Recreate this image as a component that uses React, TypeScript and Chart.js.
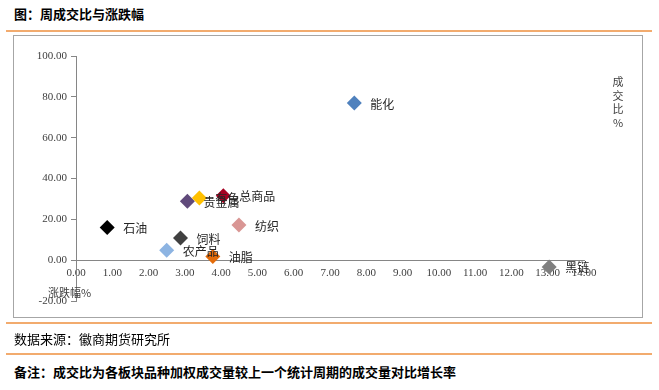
import React, { useEffect, useRef } from "react";
import { Chart, registerables } from "chart.js";

Chart.register(...registerables);

const names = ["能化", "石油", "农产品", "饲料", "贵金属", "有色", "油脂", "总商品", "纺织", "黑链"];
const changePct = [7.67, 0.86, 2.5, 2.88, 3.07, 3.4, 3.77, 4.06, 4.49, 13.04];
const volumeRatio = [77.0, 16.0, 4.9, 10.8, 28.8, 30.5, 1.8, 31.6, 17.2, -3.3];
const palette = ["#4F81BD", "#000000", "#8DB4E2", "#404040", "#604A7B", "#FFC000", "#E46C0A", "#A50021", "#D99694", "#7F7F7F"];

const xMin = 0, xMax = 14, xStep = 1;
const yMin = -20, yMax = 100, yStep = 20;

const title = "图：周成交比与涨跌幅";
const source = "数据来源：徽商期货研究所";
const note = "备注：成交比为各板块品种加权成交量较上一个统计周期的成交量对比增长率";
const yTitle = ["成", "交", "比", "%"];
const xTitle = "涨跌幅%";

const CJK = '"Noto Sans CJK SC", "Noto Sans", sans-serif';
const SERIF = '"Liberation Serif", "DejaVu Serif", serif';

const labelPlugin = {
  id: "pointLabels",
  afterDatasetsDraw(chart: any) {
    const ctx = chart.ctx;
    const meta = chart.getDatasetMeta(0);
    ctx.save();
    ctx.font = `12px ${CJK}`;
    ctx.fillStyle = "#262626";
    ctx.textBaseline = "middle";
    ctx.textAlign = "left";
    meta.data.forEach((pt: any, i: number) => {
      ctx.fillText(names[i], pt.x + 16, pt.y + 1);
    });
    ctx.restore();
  },
};

export default function App() {
  const ref = useRef<HTMLCanvasElement>(null);
  useEffect(() => {
    if (!ref.current) return;
    const chart = new Chart(ref.current, {
      type: "scatter",
      data: {
        datasets: [
          {
            data: changePct.map((x, i) => ({ x, y: volumeRatio[i] })),
            pointStyle: "rectRot",
            pointRadius: 7.5,
            pointHoverRadius: 7.5,
            pointBackgroundColor: palette,
            pointBorderWidth: 0,
            borderWidth: 0,
          },
        ],
      },
      options: {
        animation: false,
        responsive: false,
        devicePixelRatio: 1,
        layout: { padding: { left: 0, right: 57, top: 20, bottom: 16 } },
        plugins: { legend: { display: false }, tooltip: { enabled: false } },
        scales: {
          x: {
            type: "linear",
            min: xMin,
            max: xMax,
            position: { y: 0 },
            ticks: {
              stepSize: xStep,
              callback: (v: any) => Number(v).toFixed(2),
              font: { family: SERIF, size: 11 },
              color: "#404040",
              padding: 6,
              maxRotation: 0,
              autoSkip: false,
            },
            grid: { drawOnChartArea: false, drawTicks: false },
            border: { color: "#868686", width: 1 },
          },
          y: {
            type: "linear",
            min: yMin,
            max: yMax,
            position: "left",
            afterFit: (s: any) => {
              s.width = 62;
            },
            ticks: {
              stepSize: yStep,
              callback: (v: any) => Number(v).toFixed(2),
              font: { family: SERIF, size: 11 },
              color: "#404040",
              padding: 4,
            },
            grid: { drawOnChartArea: false, drawTicks: true, tickLength: 5, color: "#868686" },
            border: { color: "#868686", width: 1 },
          },
        },
      },
      plugins: [labelPlugin],
    });
    return () => chart.destroy();
  }, []);

  const abs = (s: any): any => ({ position: "absolute", ...s });
  return (
    <div style={{ position: "absolute", left: 0, top: 0, width: 659, height: 390, background: "#fff", fontFamily: CJK }}>
      <div style={abs({ left: 14, top: 6, fontSize: 13, lineHeight: "16px", fontWeight: 700, color: "#000" })}>{title}</div>
      <div style={abs({ left: 6, top: 30, width: 646, height: 2, background: "#F2AB6E" })} />
      <div style={abs({ left: 13, top: 35, width: 628, height: 281, border: "1px solid #A6A6A6" })} />
      <canvas ref={ref} width={627} height={281} style={abs({ left: 14, top: 36, width: 627, height: 281 })} />
      <div style={abs({ left: 611, top: 75, width: 14, fontSize: 11, lineHeight: "13.5px", color: "#404040", textAlign: "center" })}>
        {yTitle.map((c, i) => (
          <div key={i}>{c}</div>
        ))}
      </div>
      <div style={abs({ left: 48, top: 285, fontSize: 11, lineHeight: "14px", color: "#404040" })}>{xTitle}</div>
      <div style={abs({ left: 6, top: 322, width: 646, height: 2, background: "#F2AB6E" })} />
      <div style={abs({ left: 14, top: 331, fontSize: 13, lineHeight: "16px", color: "#000" })}>{source}</div>
      <div style={abs({ left: 6, top: 353, width: 646, height: 2, background: "#F2AB6E" })} />
      <div style={abs({ left: 14, top: 364, fontSize: 13, lineHeight: "16px", fontWeight: 700, color: "#000" })}>{note}</div>
    </div>
  );
}
